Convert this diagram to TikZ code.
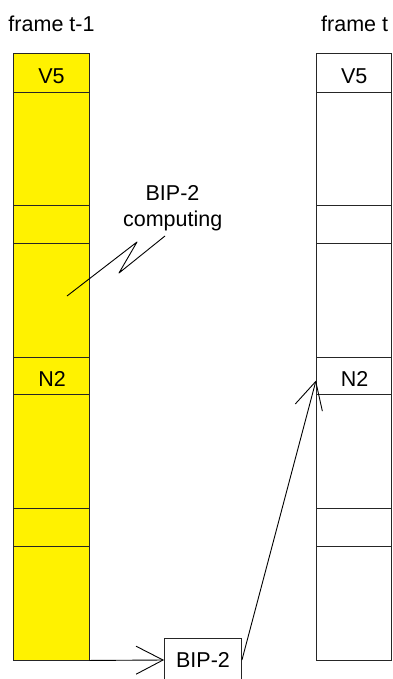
\documentclass[tikz,border=0pt]{standalone}
\usepackage{fontspec}
\setmainfont{Liberation Sans}
\usetikzlibrary{arrows.meta}
\begin{document}
\begin{tikzpicture}[x=1pt,y=-1pt,
  txt/.style={font=\fontsize{21.5}{26}\selectfont, inner sep=0pt},
  cellL/.style={draw=black!85, line width=0.9pt, fill=yellow, rectangle, inner sep=0pt, minimum width=75.5pt},
  cellR/.style={draw=black!85, line width=0.9pt, fill=white, rectangle, inner sep=0pt, minimum width=75pt},
  short/.style={minimum height=38pt},
  long/.style={minimum height=114pt},
  arr/.style={draw=black, line width=0.9pt, -{Straight Barb[length=27pt,width=28pt]}},
  zig/.style={draw=black, line width=0.9pt, line join=round}]
\clip (0,0) rectangle (392,679);
\fill[white] (0,0) rectangle (392,679);
% left column (frame t-1)
\node[cellL, minimum height=39pt] (l1) at (51.25,72.5) {};
\node[cellL, minimum height=113pt] (l2) at (51.25,148.5) {};
\node[cellL, short] (l3) at (51.25,224) {};
\node[cellL, long] (l4) at (51.25,300) {};
\node[cellL, minimum height=37pt] (l5) at (51.25,375.5) {};
\node[cellL, long] (l6) at (51.25,451) {};
\node[cellL, short] (l7) at (51.25,527) {};
\node[cellL, long] (l8) at (51.25,603) {};
% right column (frame t)
\node[cellR, minimum height=39pt] (r1) at (353.5,72.5) {};
\node[cellR, minimum height=113pt] (r2) at (353.5,148.5) {};
\node[cellR, short] (r3) at (353.5,224) {};
\node[cellR, long] (r4) at (353.5,300) {};
\node[cellR, minimum height=37pt] (r5) at (353.5,375.5) {};
\node[cellR, long] (r6) at (353.5,451) {};
\node[cellR, short] (r7) at (353.5,527) {};
\node[cellR, long] (r8) at (353.5,603) {};
% labels
\node[txt, anchor=base west] (ftl) at (8.3,31.5) {frame t-1};
\node[txt, anchor=base west] (ftr) at (321,31.7) {frame t};
\node[txt, anchor=base] (v5l) at (51.5,83.3) {V5};
\node[txt, anchor=base] (n2l) at (52,386.7) {N2};
\node[txt, anchor=base] (v5r) at (354.3,83.3) {V5};
\node[txt, anchor=base] (n2r) at (354.7,386.7) {N2};
\node[txt, anchor=base] (bc1) at (172.5,200) {BIP-2};
\node[txt, anchor=base] (bc2) at (172.7,226.7) {computing};
% lightning
\coordinate (z0) at (165,236);
\coordinate (z1) at (119,273);
\coordinate (z2) at (137,242);
\coordinate (z3) at (67,296);
\draw[zig] (z0) -- (z1) -- (z2) -- (z3);
% BIP-2 box
\node[txt, draw=black!85, line width=0.9pt, fill=white, minimum width=77pt, minimum height=44pt] (bip) at (203,660) {BIP-2};
\coordinate (tgt) at (316,380.5);
\draw[arr] (l8.south east) -- (bip.west);
\draw[arr] (bip.east) -- (tgt);
\end{tikzpicture}
\end{document}
